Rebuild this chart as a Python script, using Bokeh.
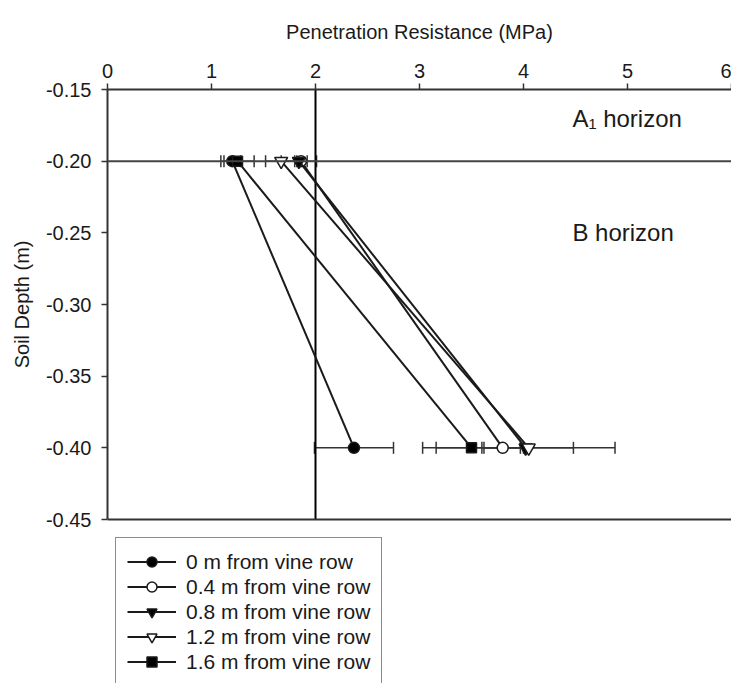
from bokeh.plotting import figure
from bokeh.models import (ColumnDataSource, Whisker, TeeHead, Span, Legend, LegendItem,
                          FixedTicker, PrintfTickFormatter, Title)
from bokeh.embed import file_html
from bokeh.resources import INLINE
from bokeh.core.properties import value

# Soil depths sampled (m, negative downwards)
depth = [-0.20, -0.40]

# Mean penetration resistance (MPa) and error at each depth, by distance from vine row
pr_0m = [1.20, 2.37]
err_0m = [0.08, 0.38]
pr_04m = [1.86, 3.80]
err_04m = [0.06, 0.20]
pr_08m = [1.84, 4.02]
err_08m = [0.17, 0.86]
pr_12m = [1.67, 4.05]
err_12m = [0.15, 0.43]
pr_16m = [1.25, 3.50]
err_16m = [0.16, 0.47]

series_labels = ["0 m from vine row", "0.4 m from vine row", "0.8 m from vine row",
                 "1.2 m from vine row", "1.6 m from vine row"]

x_ticks = [0, 1, 2, 3, 4, 5, 6]
y_ticks = [-0.15, -0.20, -0.25, -0.30, -0.35, -0.40, -0.45]

depth_top, depth_bottom = -0.15, -0.45
horizon_boundary = -0.20      # A1 / B horizon interface
critical_pr = 2.0             # root-limiting resistance threshold
horizon_labels = ["A\u2081 horizon", "B horizon"]
horizon_depths = [-0.17, -0.25]

FONT = "Liberation Sans"
INK = "#1a1a1a"

# The frame runs on below the depth axis to leave room for the legend;
# the axis itself is bounded to the measured depth interval.
FRAME_TOP = 89
AXIS_PX = 430
FRAME_H = 683 - FRAME_TOP
PX_PER_M = AXIS_PX / (depth_top - depth_bottom)
y_low = depth_top - FRAME_H / PX_PER_M

p = figure(width=731, height=683, x_range=(0, 6), y_range=(y_low, depth_top),
           x_axis_location="above", output_backend="svg", toolbar_location=None,
           min_border_left=107, min_border_right=0, min_border_top=FRAME_TOP,
           min_border_bottom=0)
p.grid.visible = False
p.outline_line_color = None
p.background_fill_color = "white"
p.border_fill_color = "white"

xa = p.xaxis[0]
xa.ticker = FixedTicker(ticks=x_ticks)
xa.axis_label = "Penetration Resistance (MPa)"
xa.axis_label_text_font = FONT
xa.axis_label_text_font_size = "20px"
xa.axis_label_text_font_style = "normal"
xa.axis_label_standoff = 18
xa.major_label_text_font = FONT
xa.major_label_text_font_size = "20px"
xa.major_label_standoff = 6

ya = p.yaxis[0]
ya.ticker = FixedTicker(ticks=y_ticks)
ya.bounds = (depth_bottom, depth_top)
ya.formatter = PrintfTickFormatter(format="%.2f")
ya.major_label_text_font = FONT
ya.major_label_text_font_size = "20px"
ya.major_label_standoff = 10

for ax in (xa, ya):
    ax.axis_line_color = "#333333"
    ax.axis_line_width = 2
    ax.major_tick_line_color = "#333333"
    ax.major_tick_line_width = 1.5
    ax.major_tick_out = 6
    ax.major_tick_in = 0
    ax.minor_tick_line_color = None
    ax.major_label_text_color = INK
    ax.axis_label_text_color = INK

# Depth axis title, centred on the bounded depth interval rather than the whole frame
label_len = 128
p.add_layout(Title(text="Soil Depth (m)", align="right", vertical_align="middle",
                   offset=AXIS_PX / 2 - label_len / 2, standoff=18,
                   text_font=FONT, text_font_size="20px", text_font_style="normal",
                   text_color=INK), "left")

# Bottom of the depth interval and horizon boundary
p.add_layout(Span(location=depth_bottom, dimension="width", line_color="#333333", line_width=2))
p.add_layout(Span(location=horizon_boundary, dimension="width", line_color="#444444", line_width=2))
# Critical resistance line across the depth interval
p.segment(x0=[critical_pr], y0=[depth_bottom], x1=[critical_pr], y1=[depth_top],
          line_color="black", line_width=2)

p.text(x=[4.47, 4.47], y=horizon_depths, text=horizon_labels,
       text_font=value(FONT), text_font_size="24px", text_color=INK,
       text_align="left", text_baseline="middle")

series = [
    (pr_0m, err_0m, "circle", "black", 11),
    (pr_04m, err_04m, "circle", "white", 11),
    (pr_08m, err_08m, "inverted_triangle", "black", 13),
    (pr_12m, err_12m, "inverted_triangle", "white", 13),
    (pr_16m, err_16m, "square", "black", 10),
]

items = []
for (vals, errs, marker, fill, size), label in zip(series, series_labels):
    src = ColumnDataSource(dict(
        x=vals, y=depth,
        lower=[v - e for v, e in zip(vals, errs)],
        upper=[v + e for v, e in zip(vals, errs)],
    ))
    p.add_layout(Whisker(source=src, base="y", lower="lower", upper="upper",
                         dimension="width", line_color="#333333", line_width=1.5,
                         lower_head=TeeHead(size=12, line_color="#333333", line_width=1.5),
                         upper_head=TeeHead(size=12, line_color="#333333", line_width=1.5)))
    ln = p.line("x", "y", source=src, line_color=INK, line_width=2)
    sc = p.scatter("x", "y", source=src, marker=marker, size=size,
                   fill_color=fill, line_color=INK, line_width=1.5)
    items.append(LegendItem(label=label, renderers=[ln, sc]))

# Legend under the depth interval, placed in screen pixels from the frame's lower-left corner
legend = Legend(items=items, location=(8, -3), margin=0, padding=11, spacing=0,
                label_height=25, glyph_height=25, glyph_width=49, label_standoff=10,
                label_width=184, border_line_color=INK, border_line_width=1.5,
                label_text_font=FONT, label_text_font_size="21px",
                label_text_color=INK, background_fill_color="white",
                background_fill_alpha=1)
p.add_layout(legend)

open("out.html", "w").write(file_html(p, INLINE))
